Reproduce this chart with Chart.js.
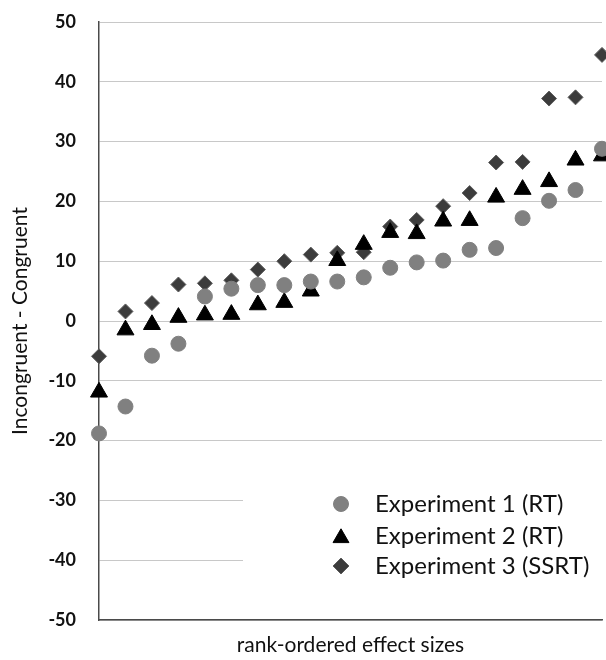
<!DOCTYPE html>
<html>
<head>
<meta charset="utf-8">
<script src="https://cdn.jsdelivr.net/npm/chart.js@4.4.1/dist/chart.umd.min.js"></script>
<style>
	body { margin: 0; background: #fff; }
	#wrap { width: 606px; height: 660px; }
</style>
</head>
<body>
<div id="wrap"><canvas id="cvs" width="606" height="660"></canvas></div>
<script>
// rank positions along the x axis
var ranks = [1, 2, 3, 4, 5, 6, 7, 8, 9, 10, 11, 12, 13, 14, 15, 16, 17, 18, 19, 20];

// Incongruent - Congruent, sorted per experiment
var exp1 = [-18.8, -14.3, -5.8, -3.8, 4.1, 5.4, 6.0, 6.0, 6.6, 6.6, 7.3, 8.9, 9.8, 10.1, 11.9, 12.2, 17.2, 20.1, 21.9, 28.8];
var exp2 = [-11.9, -1.5, -0.6, 0.6, 1.0, 1.1, 2.7, 3.1, 5.0, 10.1, 12.8, 14.8, 14.6, 16.7, 16.8, 20.7, 22.0, 23.3, 26.9, 27.6];
var exp3 = [-5.9, 1.6, 3.0, 6.1, 6.3, 6.8, 8.6, 10.0, 11.1, 11.4, 11.5, 15.8, 16.9, 19.2, 21.4, 26.5, 26.6, 37.2, 37.4, 44.5];

var seriesNames = ["Experiment 1 (RT)", "Experiment 2 (RT)", "Experiment 3 (SSRT)"];
var yTicks = [-50, -40, -30, -20, -10, 0, 10, 20, 30, 40, 50];

function toPoints(values) {
	var pts = [];
	for (var i = 0; i < values.length; ++i) {
		pts.push({ x: ranks[i], y: values[i] });
	}
	return pts;
}

var styles = [
	{ shape: "circle", color: "#808080", border: "#808080", radius: 7.5 },
	{ shape: "triangle", color: "#000000", border: "#000000", radius: 9.8 },
	{ shape: "rectRot", color: "#3c3c3c", border: "#5e5e5e", radius: 7.5 }
];

function drawMarker(ctx, st, x, y, r) {
	ctx.beginPath();
	if (st.shape === "circle") {
		ctx.arc(x, y, r, 0, Math.PI * 2);
	} else if (st.shape === "triangle") {
		ctx.moveTo(x, y - r);
		ctx.lineTo(x + r * 0.866, y + r / 2);
		ctx.lineTo(x - r * 0.866, y + r / 2);
		ctx.closePath();
	} else {
		ctx.moveTo(x - r, y);
		ctx.lineTo(x, y - r);
		ctx.lineTo(x + r, y);
		ctx.lineTo(x, y + r);
		ctx.closePath();
	}
	ctx.fillStyle = st.color;
	ctx.fill();
	ctx.lineWidth = 1;
	ctx.strokeStyle = st.border;
	ctx.stroke();
}

// legend sits inside the plot, on a white box that hides the gridlines behind it
var legendBox = {
	id: "legendBox",
	beforeDatasetsDraw: function(chart) {
		var ctx = chart.ctx;
		var area = chart.chartArea;
		ctx.save();
		ctx.fillStyle = "#ffffff";
		ctx.fillRect(243, 452, area.right - 243 + 2, area.bottom - 452 - 2);
		var rowY = [504, 536, 566];
		var sizes = [7.5, 9.2, 8];
		ctx.font = "24px Lato";
		ctx.textBaseline = "middle";
		ctx.textAlign = "left";
		for (var i = 0; i < seriesNames.length; ++i) {
			var dy = styles[i].shape === "triangle" ? 2 : 0;
			drawMarker(ctx, styles[i], 341, rowY[i] + dy, sizes[i]);
			ctx.fillStyle = "#111111";
			ctx.fillText(seriesNames[i], 375, rowY[i]);
		}
		ctx.restore();
	}
};

var datasets = [];
var allValues = [exp1, exp2, exp3];
for (var d = 0; d < allValues.length; ++d) {
	datasets.push({
		label: seriesNames[d],
		data: toPoints(allValues[d]),
		pointStyle: styles[d].shape,
		pointRadius: styles[d].radius,
		pointHoverRadius: styles[d].radius,
		pointBackgroundColor: styles[d].color,
		pointBorderColor: styles[d].border,
		pointBorderWidth: 1,
		showLine: false,
		clip: false
	});
}

new Chart(document.getElementById("cvs"), {
	type: "scatter",
	data: { datasets: datasets },
	plugins: [legendBox],
	options: {
		responsive: false,
		animation: false,
		events: [],
		layout: { autoPadding: false, padding: { top: 22, right: 4, left: 0, bottom: 0 } },
		plugins: {
			legend: { display: false },
			tooltip: { enabled: false },
			title: { display: false }
		},
		scales: {
			x: {
				type: "linear",
				min: ranks[0],
				max: ranks[ranks.length - 1],
				ticks: { display: false },
				grid: { display: false, drawTicks: false },
				border: { display: true, color: "#4a4a4a", width: 1.5 },
				title: {
					display: true,
					text: "rank-ordered effect sizes",
					color: "#111111",
					font: { family: "Lato", size: 21 },
					padding: { top: 0, bottom: 2 }
				},
				afterFit: function(scale) { scale.height = 40; }
			},
			y: {
				min: yTicks[0],
				max: yTicks[yTicks.length - 1],
				afterBuildTicks: function(scale) {
					scale.ticks = yTicks.map(function(v) { return { value: v }; });
				},
				ticks: {
					color: "#111111",
					padding: 0,
					font: { family: "Lato", size: 18, weight: "bold" }
				},
				// invisible tick marks keep the labels away from the axis
				grid: { color: "#c8c8c8", lineWidth: 1, drawTicks: true, tickLength: 23, tickColor: "rgba(0,0,0,0)" },
				border: { display: true, color: "#4a4a4a", width: 1.5 },
				title: {
					display: true,
					text: "Incongruent - Congruent",
					color: "#111111",
					font: { family: "Lato", size: 21 },
					padding: { top: 8, bottom: 0 }
				},
				afterFit: function(scale) { scale.width = 99; }
			}
		}
	}
});
</script>
</body>
</html>
